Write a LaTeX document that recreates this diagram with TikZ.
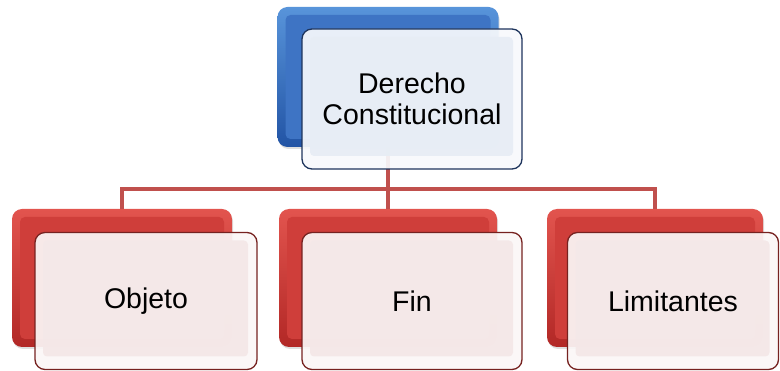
\documentclass[tikz,border=0pt]{standalone}
\usepackage{fontspec}
\setmainfont{Liberation Sans}
\usetikzlibrary{shadows}
\definecolor{conn}{RGB}{192,80,77}
\definecolor{redTop}{RGB}{226,84,78}
\definecolor{redBot}{RGB}{178,40,38}
\definecolor{redIn}{RGB}{207,62,58}
\definecolor{redBorder}{RGB}{118,34,32}
\definecolor{redFrontOut}{RGB}{251,246,246}
\definecolor{redFrontIn}{RGB}{244,232,232}
\definecolor{blueTop}{RGB}{88,148,218}
\definecolor{blueBot}{RGB}{34,84,165}
\definecolor{blueIn}{RGB}{62,116,196}
\definecolor{blueBorder}{RGB}{30,52,92}
\definecolor{blueFrontOut}{RGB}{247,249,252}
\definecolor{blueFrontIn}{RGB}{231,237,245}
\tikzset{
  backbox/.style={rectangle, rounded corners=10pt, inner sep=0pt,
    drop shadow={shadow xshift=1pt, shadow yshift=-2pt, opacity=0.25}},
  redback/.style={backbox, top color=redTop, bottom color=redBot,
    path picture={\fill[redIn, rounded corners=5pt]
      ([xshift=8pt,yshift=-8pt]path picture bounding box.north west) rectangle
      ([xshift=-8pt,yshift=8pt]path picture bounding box.south east);}},
  blueback/.style={backbox, top color=blueTop, bottom color=blueBot,
    path picture={\fill[blueIn, rounded corners=5pt]
      ([xshift=8pt,yshift=-8pt]path picture bounding box.north west) rectangle
      ([xshift=-8pt,yshift=8pt]path picture bounding box.south east);}},
  frontbox/.style={rectangle, rounded corners=10pt, inner sep=0pt, line width=1.3pt,
    align=center, font=\fontsize{28.5}{31}\selectfont, text=black,
    fill opacity=0.93, text opacity=1},
  redfront/.style={frontbox, draw=redBorder, fill=redFrontOut,
    path picture={\fill[redFrontIn, rounded corners=4pt]
      ([xshift=8pt,yshift=-8pt]path picture bounding box.north west) rectangle
      ([xshift=-9pt,yshift=13pt]path picture bounding box.south east);}},
  bluefront/.style={frontbox, draw=blueBorder, fill=blueFrontOut,
    path picture={\fill[blueFrontIn, rounded corners=4pt]
      ([xshift=8pt,yshift=-8pt]path picture bounding box.north west) rectangle
      ([xshift=-9pt,yshift=13pt]path picture bounding box.south east);}},
  connline/.style={draw=conn, line width=4.5pt}
}
\begin{document}
\begin{tikzpicture}[x=1pt,y=-1pt]
\useasboundingbox (0,0) rectangle (780,371);
% back boxes
\node[blueback, minimum width=221pt, minimum height=140pt] (tb) at (388,77) {};
\node[redback, minimum width=220pt, minimum height=138pt] (lb) at (122,278) {};
\node[redback, minimum width=218pt, minimum height=138pt] (mb) at (388,278) {};
\node[redback, minimum width=216pt, minimum height=138pt] (rb) at (655,278) {};
% connectors
\coordinate (bus) at (388,189);
\draw[connline] (tb.south) -- (tb.south |- bus) -| (lb.north);
\draw[connline] (tb.south |- bus) -- (mb.north);
\draw[connline] (tb.south |- bus) -| (rb.north);
% front boxes
\node[bluefront, minimum width=220pt, minimum height=140pt] (tf) at (412,99) {Derecho\\Constitucional};
\node[redfront, minimum width=222pt, minimum height=137pt] (lf) at (146,301) {Objeto};
\node[redfront, minimum width=220pt, minimum height=137pt] (mf) at (412,301) {Fin};
\node[redfront, minimum width=211pt, minimum height=137pt] (rf) at (673,301) {Limitantes};
\end{tikzpicture}
\end{document}
